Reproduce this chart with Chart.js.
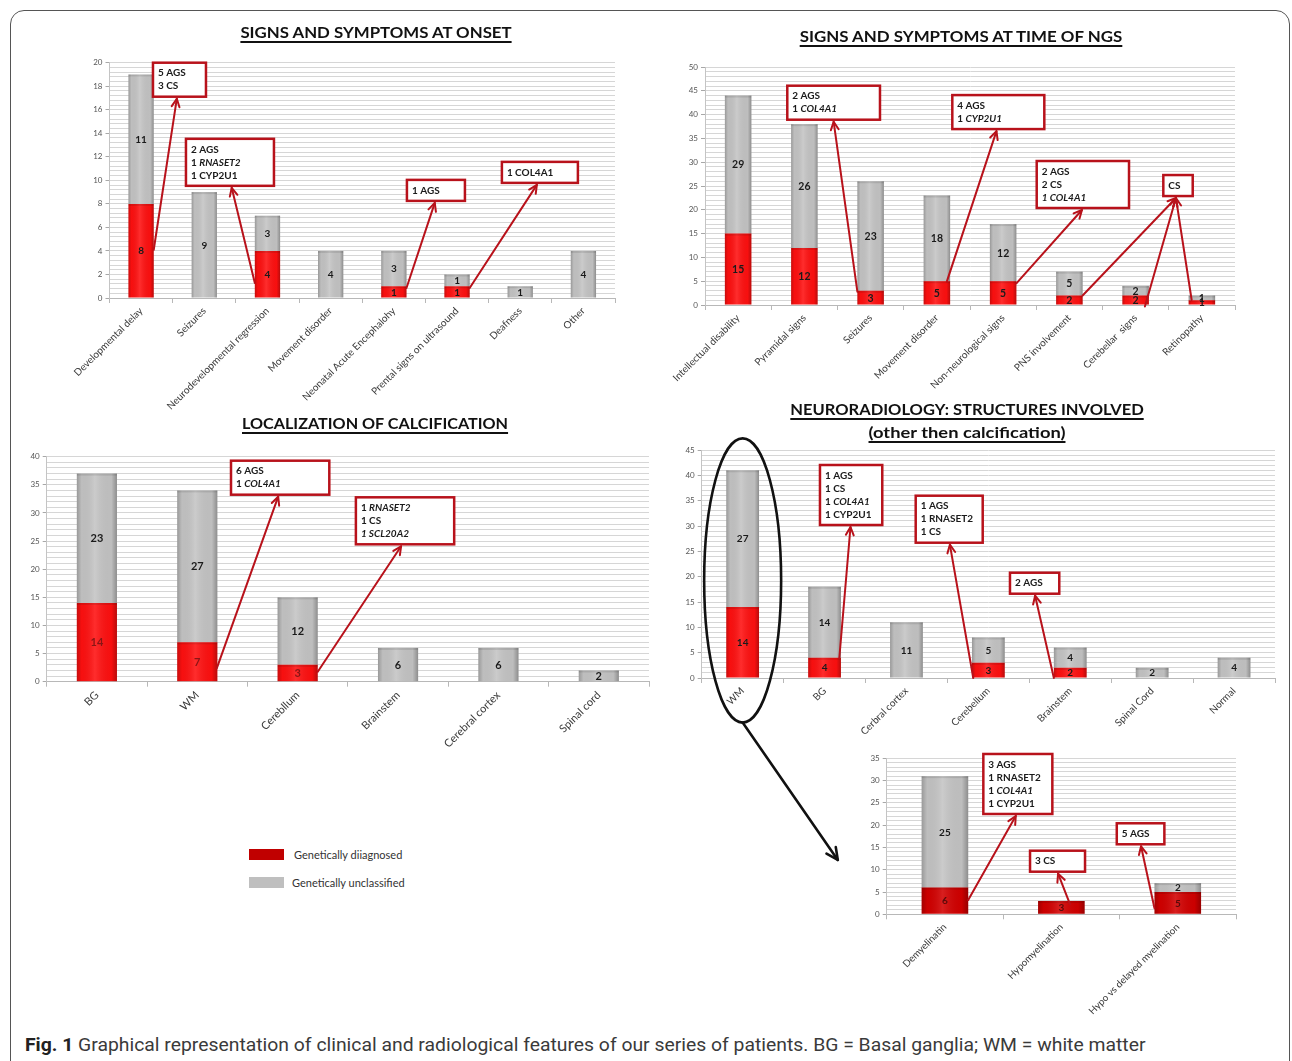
<!DOCTYPE html>
<html><head><meta charset="utf-8">
<script src="https://cdn.jsdelivr.net/npm/chart.js@4.4.1/dist/chart.umd.min.js"></script>
<style>
html,body{margin:0;padding:0}
body{width:1292px;height:1061px;background:#fff;position:relative;overflow:hidden;font-family:Lato,"Open Sans",sans-serif}
.frame{position:absolute;left:10px;top:10px;width:1280px;height:1090px;border:1.5px solid #555;border-radius:14px;box-sizing:border-box}
.cw{position:absolute}
.title{position:absolute;font-weight:bold;font-size:16px;text-decoration:underline;text-decoration-thickness:2px;text-underline-offset:3px;white-space:nowrap;color:#111;line-height:18px;z-index:5}
.leg{position:absolute;font-size:11px;color:#333;white-space:nowrap;line-height:12px}
.sw{position:absolute;width:35px;height:11px}
.cap{position:absolute;left:25px;top:1033px;font-size:19px;color:#3a3a3a;white-space:nowrap;font-family:Roboto,"Open Sans",sans-serif;transform-origin:left center}
#overlay{position:absolute;left:0;top:0;z-index:4;pointer-events:none}
</style></head>
<body>
<div class="frame"></div>

<div class="title fit" style="left:376px;top:32px" data-w="271">SIGNS AND SYMPTOMS AT ONSET</div>
<div class="title fit" style="left:961px;top:36px" data-w="323">SIGNS AND SYMPTOMS AT TIME OF NGS</div>
<div class="title fit" style="left:375px;top:423px" data-w="266">LOCALIZATION OF CALCIFICATION</div>
<div class="title fit" style="left:967px;top:409px" data-w="353">NEURORADIOLOGY: STRUCTURES INVOLVED</div>
<div class="title fit" style="left:967px;top:432px" data-w="197">(other then calcification)</div>

<div class="cw" id="w1"><canvas id="c1"></canvas></div>
<div class="cw" id="w2"><canvas id="c2"></canvas></div>
<div class="cw" id="w3"><canvas id="c3"></canvas></div>
<div class="cw" id="w4"><canvas id="c4"></canvas></div>
<div class="cw" id="w5"><canvas id="c5"></canvas></div>
<canvas id="overlay" width="1292" height="1061"></canvas>

<div class="sw" style="left:249px;top:849px;background:#c00000"></div>
<div class="leg" style="left:294px;top:849px">Genetically diiagnosed</div>
<div class="sw" style="left:249px;top:877px;background:#bfbfbf"></div>
<div class="leg" style="left:292px;top:877px">Genetically unclassified</div>

<div class="cap" id="cap"><b style="color:#222">Fig. 1</b> Graphical representation of clinical and radiological features of our series of patients. BG = Basal ganglia; WM = white matter</div>

<script>
// ---------------- DATA ----------------
const onsetCategories = ['Developmental delay','Seizures','Neurodevelopmental regression','Movement disorder','Neonatal Acute Encephalohy','Prental signs on ultrasound','Deafness','Other'];
const onsetDiagnosed = [8,0,4,0,1,1,0,0];
const onsetUnclassified = [11,9,3,4,3,1,1,4];
const onsetNotes = [['5 AGS','3 CS'], ['2 AGS','1 *RNASET2*','1 CYP2U1'], ['1 AGS'], ['1 COL4A1']];

const ngsCategories = ['Intellectual disability','Pyramidal signs','Seizures','Movement disorder','Non-neurological signs','PNS involvement','Cerebellar  signs','Retinopathy'];
const ngsDiagnosed = [15,12,3,5,5,2,2,1];
const ngsUnclassified = [29,26,23,18,12,5,2,1];
const ngsNotes = [['2 AGS','1 *COL4A1*'], ['4 AGS','1 *CYP2U1*'], ['2 AGS','2 CS','*1 COL4A1*'], ['CS']];

const calcCategories = ['BG','WM','Cerebllum','Brainstem','Cerebral cortex','Spinal cord'];
const calcDiagnosed = [14,7,3,0,0,0];
const calcUnclassified = [23,27,12,6,6,2];
const calcNotes = [['6 AGS','1 *COL4A1*'], ['1 *RNASET2*','1 CS','*1 SCL20A2*']];

const neuroCategories = ['WM','BG','Cerbral cortex','Cerebellum','Brainstem','Spinal Cord','Normal'];
const neuroDiagnosed = [14,4,0,3,2,0,0];
const neuroUnclassified = [27,14,11,5,4,2,4];
const neuroNotes = [['1 AGS','1 CS','1 *COL4A1*','1 CYP2U1'], ['1 AGS','1 RNASET2','1 CS'], ['2 AGS']];

const myelCategories = ['Demyelinatin','Hypomyelination','Hypo vs delayed myelination'];
const myelDiagnosed = [6,3,5];
const myelUnclassified = [25,0,2];
const myelNotes = [['3 AGS','1 RNASET2','1 *COL4A1*','1 CYP2U1'], ['3 CS'], ['5 AGS']];

const seriesNames = ['Genetically diiagnosed','Genetically unclassified'];

// ---------------- LAYOUT (positions / styles) ----------------
const FONT = 'Lato, "Open Sans", sans-serif';
const NOTE_RED = '#b8121b';
const layouts = [
  {id:'c1', wrap:'w1', cats:onsetCategories, red:onsetDiagnosed, grey:onsetUnclassified, notes:onsetNotes,
   left:40, top:50, width:585, height:370, axisW:69.5, axisH:122, padT:12.7, padR:10,
   max:20, major:2, minor:0.4, xFont:10, yFont:8, lblSize:10, redColor:'#ff1010', lblColors:['#1a1a1a','#1a1a1a'],
   callouts:[
     {i:0.188, v:20.0, w:53, tip:0.45, from:[[0,1,4.1]]},
     {i:0.71, v:13.53, w:88, tip:0.52, from:[[2,-1,1.28]]},
     {i:4.207, v:10.04, w:58, tip:0.48, from:[[4,1,0.85]]},
     {i:5.71, v:11.57, w:76, tip:0.46, from:[[5,1,0.85]]}
   ]},
  {id:'c2', wrap:'w2', cats:ngsCategories, red:ngsDiagnosed, grey:ngsUnclassified, notes:ngsNotes,
   left:640, top:55, width:605, height:365, axisW:65, axisH:115, padT:12, padR:10,
   max:50, major:5, minor:1, xFont:10, yFont:8, lblSize:10.5, redColor:'#ff1010', lblColors:['#1a1a1a','#1a1a1a'],
   callouts:[
     {i:0.742, v:46.07, w:92.7, tip:0.5, from:[[2,-1,2.8]]},
     {i:3.233, v:44.1, w:92, tip:0.48, from:[[3,0.75,4.9]]},
     {i:4.507, v:30.25, w:92.3, tip:0.49, from:[[4,1,4.56]]},
     {i:6.418, v:27.3, w:29.4, tip:0.43, from:[[5,1,2],[6,0.7,-0.3],[7,-0.77,1.05]]}
   ]},
  {id:'c3', wrap:'w3', cats:calcCategories, red:calcDiagnosed, grey:calcUnclassified, notes:calcNotes,
   left:15, top:445, width:644, height:325, axisW:31.7, axisH:88.3, padT:11.7, padR:10,
   max:40, major:5, minor:1, xFont:11, yFont:8, lblSize:11, redColor:'#ff1010', lblColors:['#8a1515','#1a1a1a'],
   callouts:[
     {i:1.336, v:39.29, w:98.3, tip:0.48, from:[[1,0.97,2.38]]},
     {i:2.58, v:32.78, w:98.3, tip:0.46, from:[[2,1,1.78]]}
   ]},
  {id:'c4', wrap:'w4', cats:neuroCategories, red:neuroDiagnosed, grey:neuroUnclassified, notes:neuroNotes,
   left:660, top:430, width:625, height:330, axisW:41.7, axisH:82, padT:20, padR:10,
   max:45, major:5, minor:1, xFont:10, yFont:8, lblSize:10, redColor:'#ff1010', lblColors:['#1a1a1a','#1a1a1a'],
   callouts:[
     {i:0.944, v:42.04, w:62.3, tip:0.49, from:[[1,0.9,3.9]]},
     {i:2.113, v:35.98, w:67, tip:0.51, from:[[3,-0.92,0]]},
     {i:3.264, v:20.78, w:49.3, tip:0.51, from:[[4,-1,0]]}
   ]},
  {id:'c5', wrap:'w5', cats:myelCategories, red:myelDiagnosed, grey:myelUnclassified, notes:myelNotes,
   left:850, top:748, width:396, height:277, axisW:36.7, axisH:110.7, padT:10.3, padR:10,
   max:35, major:5, minor:1, xFont:9.8, yFont:8, lblSize:10, redColor:'#d20000', lblColors:['#5a0a0a','#1a1a1a'],
   callouts:[
     {i:0.33, v:35.97, w:69, tip:0.47, from:[[0,1,3.2]]},
     {i:0.731, v:14.27, w:55, tip:0.51, from:[[1,0.37,2.3]]},
     {i:1.476, v:20.42, w:47.6, tip:0.51, from:[[2,-1,1.35]]}
   ]}
];

// ---------------- helpers ----------------
function drawArrow(ctx, sx, sy, tx, ty, color, lw, head){
  ctx.save();
  ctx.strokeStyle = color; ctx.lineWidth = lw; ctx.lineCap = 'round'; ctx.lineJoin = 'round';
  ctx.beginPath(); ctx.moveTo(sx, sy); ctx.lineTo(tx, ty); ctx.stroke();
  const a = Math.atan2(ty - sy, tx - sx);
  ctx.beginPath();
  ctx.moveTo(tx - head*Math.cos(a - 0.45), ty - head*Math.sin(a - 0.45));
  ctx.lineTo(tx, ty);
  ctx.lineTo(tx - head*Math.cos(a + 0.45), ty - head*Math.sin(a + 0.45));
  ctx.stroke();
  ctx.restore();
}
function drawRich(ctx, text, x, y, size){
  const parts = text.split('*');
  let cx = x;
  ctx.textAlign = 'left'; ctx.textBaseline = 'middle'; ctx.fillStyle = '#1a1a1a';
  parts.forEach((p, k) => {
    if (!p) return;
    ctx.font = (k % 2 ? 'italic ' : '') + 'bold ' + size + 'px ' + FONT;
    ctx.fillText(p, cx, y);
    cx += ctx.measureText(p).width;
  });
}
const isMajor = (v, m) => Math.abs(v / m - Math.round(v / m)) < 1e-6;

const decor = {
  id: 'decor',
  afterDatasetDraw(chart, args) {
    const ctx = chart.ctx;
    const data = chart.data.datasets[args.index].data;
    args.meta.data.forEach((el, i) => {
      if (!data[i]) return;
      const {x, y, base, width} = el.getProps(['x','y','base','width'], true);
      const l = x - width/2, top = Math.min(y, base), h = Math.abs(base - y);
      const g = ctx.createLinearGradient(l, 0, l + width, 0);
      g.addColorStop(0, 'rgba(0,0,0,0.22)');
      g.addColorStop(0.12, 'rgba(0,0,0,0.03)');
      g.addColorStop(0.45, 'rgba(255,255,255,0.12)');
      g.addColorStop(0.86, 'rgba(0,0,0,0.03)');
      g.addColorStop(1, 'rgba(0,0,0,0.28)');
      ctx.save();
      ctx.fillStyle = g; ctx.fillRect(l, top, width, h);
      ctx.fillStyle = 'rgba(0,0,0,0.10)'; ctx.fillRect(l, top, width, Math.min(2, h));
      ctx.restore();
    });
  },
  afterDatasetsDraw(chart, args, opts) {
    const ctx = chart.ctx;
    chart.data.datasets.forEach((ds, d) => {
      const meta = chart.getDatasetMeta(d);
      meta.data.forEach((el, i) => {
        const v = ds.data[i];
        if (!v) return;
        const {x, y, base} = el.getProps(['x','y','base'], true);
        ctx.save();
        ctx.font = 'bold ' + opts.lblSize + 'px ' + FONT;
        ctx.fillStyle = opts.lblColors[d];
        ctx.textAlign = 'center'; ctx.textBaseline = 'middle';
        ctx.fillText(String(v), x, (y + base) / 2 + 0.5);
        ctx.restore();
      });
    });
  },
  afterDraw(chart, args, opts) {
    const ctx = chart.ctx, xs = chart.scales.x, ys = chart.scales.y;
    const redMeta = chart.getDatasetMeta(0);
    opts.callouts.forEach((c, k) => {
      const lines = opts.notes[k];
      const left = xs.getPixelForValue(c.i), top = ys.getPixelForValue(c.v);
      const h = 8 + 13 * lines.length;
      const tx = left + c.tip * c.w, ty = top + h + 2;
      c.from.forEach(([bi, side, val]) => {
        const el = redMeta.data[bi];
        const p = el.getProps(['x','width'], true);
        drawArrow(ctx, p.x + side * p.width / 2, ys.getPixelForValue(val), tx, ty, NOTE_RED, 2, 9);
      });
      ctx.save();
      ctx.fillStyle = '#fff'; ctx.fillRect(left, top, c.w, h);
      ctx.strokeStyle = NOTE_RED; ctx.lineWidth = 2.5; ctx.strokeRect(left, top, c.w, h);
      ctx.restore();
      lines.forEach((ln, j) => drawRich(ctx, ln, left + 5, top + 4 + 13 * (j + 0.5), 10));
    });
  }
};

Chart.defaults.font.family = FONT;
const charts = layouts.map(L => {
  const w = document.getElementById(L.wrap);
  w.style.left = L.left + 'px'; w.style.top = L.top + 'px';
  w.style.width = L.width + 'px'; w.style.height = L.height + 'px';
  const cv = document.getElementById(L.id);
  cv.width = L.width; cv.height = L.height;
  return new Chart(cv, {
    type: 'bar',
    data: {
      labels: L.cats,
      datasets: [
        {label: seriesNames[0], data: L.red, backgroundColor: L.redColor, borderWidth: 0},
        {label: seriesNames[1], data: L.grey, backgroundColor: '#c4c4c4', borderWidth: 0}
      ]
    },
    options: {
      responsive: false, animation: false, devicePixelRatio: 1,
      categoryPercentage: 1, barPercentage: 0.4,
      layout: {padding: {top: L.padT, right: L.padR, left: 0, bottom: 0}},
      plugins: {
        legend: {display: false}, tooltip: {enabled: false},
        decor: {lblSize: L.lblSize, lblColors: L.lblColors, callouts: L.callouts, notes: L.notes}
      },
      scales: {
        x: {
          stacked: true,
          grid: {display: true, drawOnChartArea: false, drawTicks: true, tickLength: 5, color: '#b8b8b8', offset: true},
          border: {display: true, color: '#b8b8b8'},
          ticks: {autoSkip: false, maxRotation: 45, minRotation: 45, padding: 2, color: '#3a3a3a', font: {size: L.xFont}},
          afterFit(s) { s.height = L.axisH; }
        },
        y: {
          stacked: true, min: 0, max: L.max,
          grid: {color: '#d6d6d6', lineWidth: 1, drawTicks: true, tickLength: 4,
                 tickColor: (c) => (c.tick && isMajor(c.tick.value, L.major)) ? '#a8a8a8' : 'rgba(0,0,0,0)'},
          border: {display: true, color: '#c4c4c4'},
          ticks: {stepSize: L.minor, autoSkip: false, padding: 3, color: '#555', font: {size: L.yFont},
                  callback: (v) => isMajor(v, L.major) ? String(Math.round(v)) : ''},
          afterFit(s) { s.width = L.axisW; }
        }
      }
    },
    plugins: [decor]
  });
});

// ---------------- overlay: ellipse around WM and pointer to myelination chart ----------------
(function(){
  const L4 = layouts[3], L5 = layouts[4];
  const c4 = charts[3], c5 = charts[4];
  const ctx = document.getElementById('overlay').getContext('2d');
  const x4 = c4.scales.x, y4 = c4.scales.y;
  const cx = L4.left + x4.getPixelForValue(0);
  const rx = (x4.getPixelForValue(1) - x4.getPixelForValue(0)) * 0.47;
  const top = L4.top + y4.getPixelForValue(47.3), bot = L4.top + y4.getPixelForValue(-8.8);
  ctx.save();
  ctx.strokeStyle = '#111'; ctx.lineWidth = 2.6;
  ctx.beginPath(); ctx.ellipse(cx, (top + bot) / 2, rx, (bot - top) / 2, 0, 0, Math.PI * 2); ctx.stroke();
  ctx.restore();
  const tx = L5.left + c5.scales.x.getPixelForValue(-0.92);
  const ty = L5.top + c5.scales.y.getPixelForValue(12.2);
  drawArrow(ctx, cx, bot, tx, ty, '#111', 2.6, 13);
})();

// ---------------- fit text widths ----------------
document.querySelectorAll('.fit').forEach(el => {
  const s = (+el.dataset.w) / el.offsetWidth;
  el.style.transform = 'translate(-50%,-50%) scaleX(' + s + ')';
});
(function(){
  const el = document.getElementById('cap');
  el.style.transform = 'scaleX(' + (1120 / el.offsetWidth) + ')';
})();
</script>
</body></html>
